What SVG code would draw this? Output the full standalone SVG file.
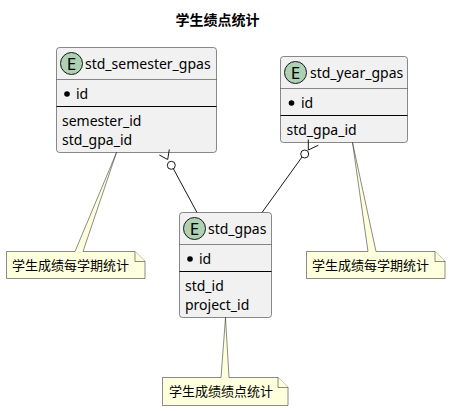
<svg xmlns="http://www.w3.org/2000/svg" width="450" height="411" viewBox="0 0 450 411">
<defs><style>
text{font-family:"Noto Sans","Noto Sans CJK SC",sans-serif;fill:#000}
.t{font-size:14px}
.n{font-size:13px;font-family:"Noto Sans CJK SC","Noto Sans",sans-serif}
.box{fill:#f1f1f1;stroke:#181818;stroke-width:.5}
.hd{stroke:#181818;stroke-width:.5;fill:none}
.dv{stroke:#000;stroke-width:1;fill:none}
.circ{fill:#add1b2;stroke:#181818;stroke-width:1}
.note{fill:#feffdd;stroke:#181818;stroke-width:.5}
.c{fill:none;stroke:#181818;stroke-width:1}
.o{fill:#fff;stroke:#181818;stroke-width:1}
.e{font-size:17px;font-family:"Noto Sans",sans-serif}
</style></defs>
<text x="175.500" y="25" style="font-size:14px;font-weight:700;font-family:'Noto Sans CJK SC',sans-serif">学生绩点统计</text>
<g id="std_semester_gpas">
<rect class="box" x="56.500" y="47.500" width="160" height="105" rx="3"/>
<circle class="circ" cx="71.500" cy="63.500" r="11"/><text class="e" x="71.500" y="69.500" text-anchor="middle">E</text>
<text class="t" x="85" y="68.500">std_semester_gpas</text>
<path class="hd" d="M56.500 79.500H216.500"/><circle cx="67" cy="94" r="2.800"/>
<text class="t" x="76" y="98.500">id</text>
<path class="dv" d="M56.500 106.500H216.500"/>
<text class="t" x="62" y="125.500">semester_id</text><text class="t" x="62" y="144.500">std_gpa_id</text>
</g>
<g id="std_year_gpas">
<rect class="box" x="280.500" y="56.500" width="127" height="86" rx="3"/>
<circle class="circ" cx="295.500" cy="72.500" r="11"/><text class="e" x="295.500" y="78.500" text-anchor="middle">E</text>
<text class="t" x="310" y="77.500">std_year_gpas</text>
<path class="hd" d="M280.500 88.500H407.500"/><circle cx="291.500" cy="103" r="2.800"/>
<text class="t" x="301" y="107.500">id</text>
<path class="dv" d="M280.500 115.500H407.500"/>
<text class="t" x="286.500" y="134.500">std_gpa_id</text>
</g>
<g id="std_gpas">
<rect class="box" x="179.500" y="212.500" width="92" height="105" rx="3"/>
<circle class="circ" cx="194.500" cy="228.500" r="11"/><text class="e" x="194.500" y="234.500" text-anchor="middle">E</text>
<text class="t" x="208" y="233.500">std_gpas</text>
<path class="hd" d="M179.500 244.500H271.500"/><circle cx="190" cy="259" r="2.800"/>
<text class="t" x="199" y="263.500">id</text>
<path class="dv" d="M179.500 271.500H271.500"/>
<text class="t" x="185" y="290.500">std_id</text><text class="t" x="185" y="309.500">project_id</text>
</g>
<g id="connectors">
<path class="c" d="M197 212.500L173.500 169"/><circle class="o" cx="171.300" cy="165.300" r="4"/>
<path class="c" d="M169.300 149.500L167.700 159.500L159.300 155"/>
<path class="c" d="M262 212.500L302 157"/><circle class="o" cx="304.700" cy="154" r="4"/>
<path class="c" d="M308.300 139.500V150L318.300 145.300"/>
</g>
<g id="note1">
<path class="note" d="M6.500 251.500H75L116.500 152.500L83 251.500H135L145 261.500V278.500H6.500Z"/>
<path class="note" d="M135 251.500V261.500H145"/>
<text class="n" x="12" y="270">学生成绩每学期统计</text>
</g>
<g id="note2">
<path class="note" d="M162.500 377.500H221L225.500 317.500L229 377.500H278L288 387.500V405.500H162.500Z"/>
<path class="note" d="M278 377.500V387.500H288"/>
<text class="n" x="169" y="396">学生成绩绩点统计</text>
</g>
<g id="note3">
<path class="note" d="M306.500 251.500H368L352.500 142.500L376 251.500H435L445 261.500V278.500H306.500Z"/>
<path class="note" d="M435 251.500V261.500H445"/>
<text class="n" x="312" y="270">学生成绩每学期统计</text>
</g>
</svg>
